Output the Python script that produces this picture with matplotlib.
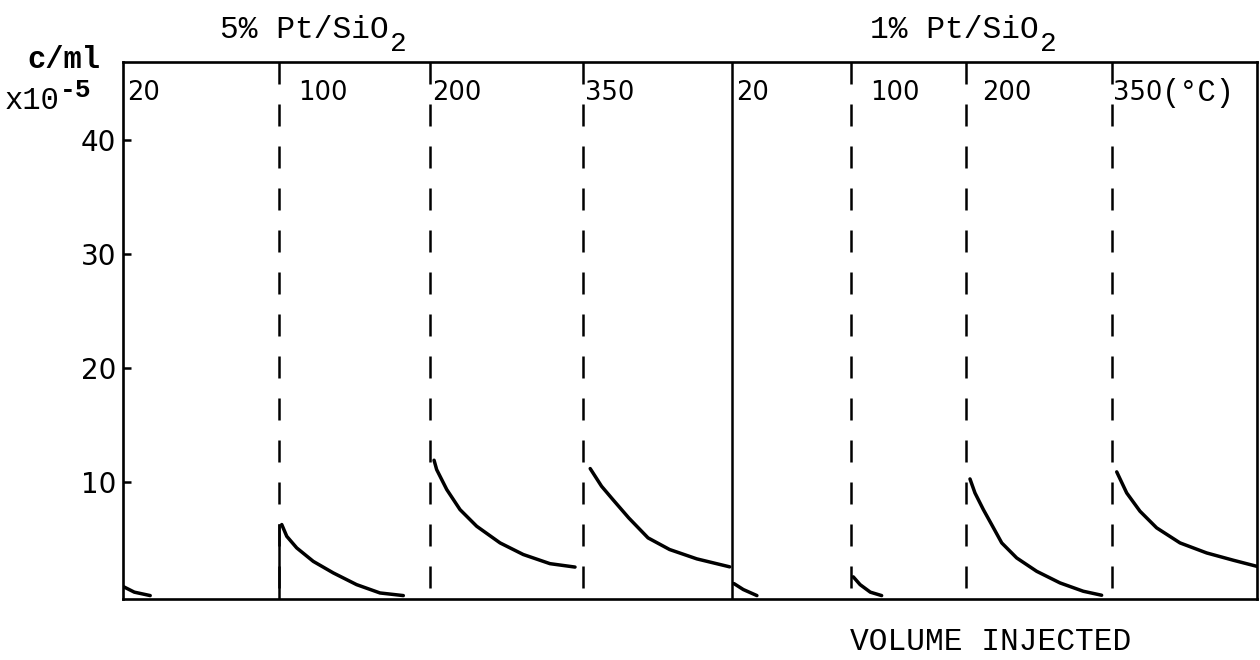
import matplotlib.pyplot as plt

# catalysts and injection temperatures
catalysts = ['5% Pt/SiO', '1% Pt/SiO']
temps = ['20', '100', '200', '350', '20', '100', '200', '350']

# volume injected (arbitrary units) where each temperature run starts
run_start = [0, 13.8, 27.1, 40.6, 53.7, 64.2, 74.3, 87.2]

# concentration curves, c/ml x1e-5
x_20a = [0, 1.0, 2.4]
c_20a = [0.8, 0.3, 0.0]
x_100a = [14.0, 14.44, 15.32, 16.78, 18.54, 20.6, 22.66, 24.72]
c_100a = [6.23, 5.2, 4.18, 3.0, 1.99, 0.96, 0.23, 0.0]
x_200a = [27.43, 27.66, 28.55, 29.72, 31.19, 33.25, 35.3, 37.65, 39.86]
c_200a = [11.87, 11.05, 9.3, 7.54, 6.08, 4.62, 3.6, 2.8, 2.5]
x_350a = [41.2, 42.2, 43.2, 44.6, 46.3, 48.2, 50.6, 53.5]
c_350a = [11.14, 9.59, 8.42, 6.81, 5.06, 4.04, 3.22, 2.52]

x_20b = [53.88, 54.7, 55.9]
c_20b = [1.05, 0.53, 0.0]
x_100b = [64.4, 65.0, 65.9, 66.9]
c_100b = [1.64, 0.96, 0.3, 0.0]
x_200b = [74.69, 75.13, 75.87, 76.6, 77.49, 78.81, 80.57, 82.63, 84.68, 86.3]
c_200b = [10.23, 9.0, 7.54, 6.23, 4.62, 3.3, 2.13, 1.11, 0.38, 0.03]
x_350b = [87.63, 88.51, 89.68, 91.15, 93.21, 95.56, 97.91, 99.97]
c_350b = [10.85, 9.0, 7.4, 5.94, 4.62, 3.74, 3.1, 2.57]

curves = [(x_20a, c_20a), (x_100a, c_100a), (x_200a, c_200a), (x_350a, c_350a),
          (x_20b, c_20b), (x_100b, c_100b), (x_200b, c_200b), (x_350b, c_350b)]

yticks = [10, 20, 30, 40]

fig = plt.figure(figsize=(12.6, 6.6), dpi=100)
ax = fig.add_axes([123/1260, 1 - 599/660, (1257-123)/1260, (599-62)/660])
ymax = 46.8
ax.set_xlim(0, 100)
ax.set_ylim(-0.3, ymax)

for s in ax.spines.values():
    s.set_linewidth(1.9)
    s.set_color('black')

# run boundaries: solid between the two catalysts, dashed otherwise
for i, xs in enumerate(run_start):
    if i == 0:
        continue
    if i == 4:
        ax.plot([xs, xs], [ymax, -0.3], color='black', lw=1.8)
    else:
        ln, = ax.plot([xs, xs], [ymax, -0.3], color='black', lw=1.8)
        ln.set_dashes((8.8, 8))

# the 100 C run of 5% has its drop line drawn solid under the curve
ax.plot([run_start[1], run_start[1]], [-0.3, c_100a[0]], color='black', lw=1.8)

for xv, cv in curves:
    ax.plot(xv, cv, color='black', lw=2.5, solid_capstyle='round',
            solid_joinstyle='round')

# temperature labels at top of each run
label_shift = [0.35, 1.6, 0.2, 0.1, 0.35, 1.7, 1.5, 0.1]
last = None
for xs, t, dx in zip(run_start, temps, label_shift):
    last = ax.text(xs + dx, 44.1, t, fontsize=18.5, family='DejaVu Sans',
                   ha='left', va='center')
ax.annotate('(°C)', xy=(1, 0.5), xycoords=last, xytext=(0, 0),
            textcoords='offset points', fontsize=22, family='Liberation Mono',
            ha='left', va='center')

# catalyst titles above the frame, subscript 2 set by hand
for xt, name in zip([8.55, 65.9], catalysts):
    t = ax.text(xt, 49.6, name, fontsize=22.5, family='Liberation Mono',
                ha='left', va='center', clip_on=False)
    ax.annotate('2', xy=(1, 0.5), xycoords=t, xytext=(1, -10),
                textcoords='offset points', fontsize=20, family='Liberation Mono',
                ha='left', va='center')

ax.set_xticks([])
ax.set_yticks(yticks)
ax.set_yticklabels([str(v) for v in yticks], fontsize=20, family='DejaVu Sans')
ax.tick_params(axis='y', direction='in', length=6, width=1.8, pad=5)

fig.text(27/1260, 1 - 60/660, 'c/ml', fontsize=22, family='Liberation Mono',
         weight='bold', ha='left', va='center')
fig.text(5/1260, 1 - 101/660, 'x10', fontsize=22, family='Liberation Mono',
         ha='left', va='center')
fig.text(60/1260, 1 - 90/660, '-5', fontsize=19, family='Liberation Mono',
         weight='bold', ha='left', va='center')
fig.text(850/1260, 1 - 642/660, 'VOLUME INJECTED', fontsize=22.5,
         family='Liberation Mono', ha='left', va='center')

fig.savefig('out.png', dpi=100)
